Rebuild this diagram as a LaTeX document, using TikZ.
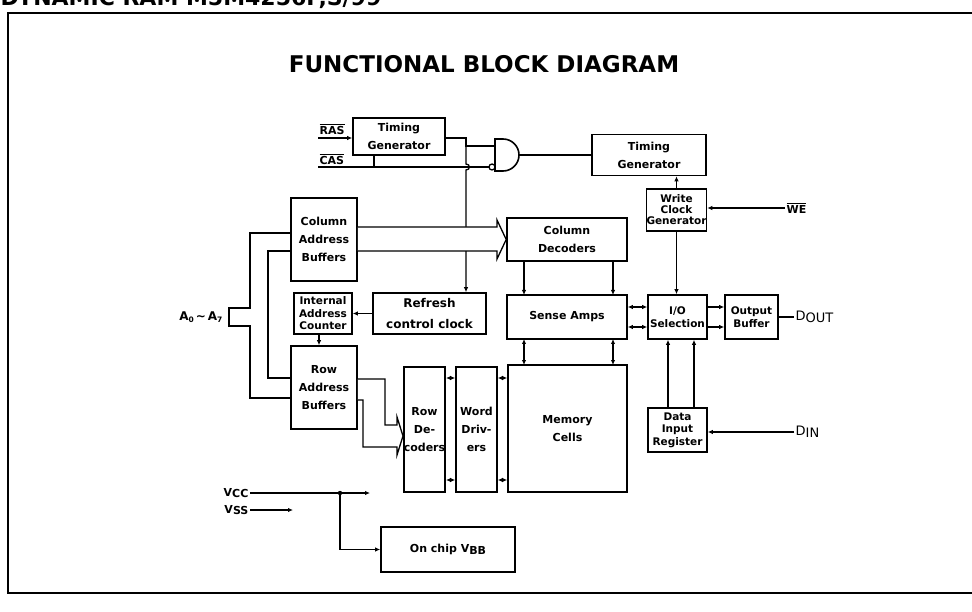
\documentclass[tikz,border=0pt]{standalone}
\usepackage{fontspec}
\setmainfont{DejaVu Sans}
\usetikzlibrary{arrows.meta,calc}
\newcommand\ovl[1]{$\overline{\hbox{#1}}$}
\newcommand\lowsub[1]{\raisebox{-2pt}{\fontsize{7.5}{8}\selectfont #1}}

\begin{document}
\begin{tikzpicture}[x=1pt,y=-1pt,line width=1.3pt,
  >={Latex[length=5pt,width=4.5pt]},
  blk/.style={draw,line width=1.6pt,align=center,inner sep=0pt,font=\bfseries\fontsize{11}{18}\selectfont},
  tight/.style={font=\bfseries\fontsize{10.5}{12.5}\selectfont},
  sz/.style 2 args={minimum width=#1,minimum height=#2},
  lbl/.style={inner sep=1pt,font=\bfseries\fontsize{11}{13}\selectfont},
  pin/.style={inner sep=1pt,font=\fontsize{13}{15}\selectfont}]
\useasboundingbox (0,0) rectangle (972,612);

% frame and headings
\draw[line width=1.6pt] (976,13) -- (8,13) -- (8,593) -- (976,593);
\node[anchor=base west,inner sep=0pt,font=\bfseries\fontsize{22}{22}\selectfont] (hdr) at (0,6) {DYNAMIC RAM M5M4256P,S/99};
\node[inner sep=0pt,font=\bfseries\fontsize{23}{23}\selectfont] (title) at (484,64) {FUNCTIONAL BLOCK DIAGRAM};

% blocks
\node[blk,sz={92}{37}] (tg1) at (399,136.5) {Timing\\Generator};
\node[blk,sz={114}{41}] (tg2) at (649,155) {Timing\\Generator};
\node[blk,tight,sz={59}{42}] (wcg) at (676.5,210) {Write\\[-1.5pt]Clock\\[-1.5pt]Generator};
\node[blk,sz={66}{83}] (cab) at (324,239.5) {Column\\Address\\Buffers};
\node[blk,sz={120}{43}] (cdec) at (567,239.5) {Column\\Decoders};
\node[blk,tight,sz={58}{41}] (iac) at (323,313.5) {Internal\\Address\\Counter};
\node[blk,font=\bfseries\fontsize{12}{21}\selectfont,sz={113}{41}] (rcc) at (429.5,313.5) {Refresh\\control clock};
\node[blk,sz={120}{44}] (samp) at (567,317) {Sense Amps};
\node[blk,tight,sz={59}{44}] (ios) at (677.5,317) {I/O\\Selection};
\node[blk,tight,sz={53}{44}] (obuf) at (751.5,317) {Output\\Buffer};
\node[blk,sz={66}{83}] (rab) at (324,387.5) {Row\\Address\\Buffers};
\node[blk,sz={39}{125}] (rdec) at (424.5,429.5) {Row\\De-\\coders};
\node[blk,sz={41}{125}] (wdrv) at (476.5,429.5) {Word\\Driv-\\ers};
\node[blk,sz={119}{127}] (mem) at (567.5,428.5) {Memory\\Cells};
\node[blk,tight,sz={59}{44}] (dir) at (677.5,430) {Data\\Input\\Register};
\node[blk,sz={134}{45}] (vbb) at (448,549.5) {On chip V\raisebox{-1.5pt}{BB}};

% pins
\node[lbl,anchor=south west] (rasl) at (318,136) {\ovl{RAS}};
\node[lbl,anchor=south west] (casl) at (318,166) {\ovl{CAS}};
\node[lbl,anchor=west] (wel) at (785,208) {\ovl{WE}};
\node[pin,anchor=west] (doutl) at (794,317) {D\raisebox{-2pt}{OUT}};
\node[pin,anchor=west] (dinl) at (794,432) {D\raisebox{-2pt}{IN}};
\node[lbl,anchor=east,font=\bfseries\fontsize{12}{14}\selectfont] (addr) at (224,317) {A\lowsub{0}\,\textasciitilde\,A\lowsub{7}};
\node[lbl,anchor=east] (vccl) at (250,493) {V\raisebox{-1pt}{CC}};
\node[lbl,anchor=east] (vssl) at (250,510) {V\raisebox{-1pt}{SS}};
\coordinate (ras) at (318,138);
\coordinate (cas) at (318,167);
\coordinate (tap) at (466,138);
\coordinate (gout) at (519,155);

% RAS / CAS and the gate
\draw[->] (ras) -- (ras -| tg1.west);
\draw (cas) -- (489,167);
\draw (374,155) -- (374,167);
\draw (tg1.east |- tap) -- (tap) -- (466,146) -- (495,146);
\draw[line width=1.6pt] (495,139) -- (503,139) arc[start angle=-90,end angle=90,radius=16] -- (495,171) -- cycle;
\draw (492,167) circle[radius=3];
\draw (gout) -- (gout -| tg2.west);
\draw[->] (466,146) -- (466,164) .. controls (470.5,164) and (470.5,170) .. (466,170) -- (tap |- rcc.north);
\draw[->] (wcg.north) -- (wcg.north |- tg2.south);
\draw[->] (wel.west) -- (wcg.east |- wel.west);
\draw[->] (wcg.south) -- (wcg.south |- ios.north);

% column address bus
\draw[fill=white] (cab.east |- 0,227) -- (497,227) -- (497,220) -- (cdec.west) -- (497,259) -- (497,251) -- (cab.east |- 0,251);
\foreach \x in {524,613} {
  \draw[->] (\x,261) -- (\x,295);
  \draw[<->] (\x,339) -- (\x,365);
}
\foreach \y in {307,327} {
  \draw[<->] (samp.east |- 0,\y) -- (ios.west |- 0,\y);
  \draw[->] (ios.east |- 0,\y) -- (obuf.west |- 0,\y);
}
\draw (obuf.east) -- (doutl.west);
\foreach \x in {668,694} \draw[->] (dir.north -| \x,0) -- (ios.south -| \x,0);
\draw[->] (dinl.west) -- (dir.east |- dinl.west);

% refresh and address paths
\draw[->] (rcc.west) -- (iac.east);
\draw[->] (iac.south -| 319,0) -- (rab.north -| 319,0);
\draw (cab.west |- 0,233) -- (250,233) -- (250,308) -- (229,308) -- (229,326) -- (250,326) -- (250,398) -- (rab.west |- 0,398);
\draw (cab.west |- 0,251) -- (268,251) -- (268,378) -- (rab.west |- 0,378);

% row address bus
\draw[fill=white] (rab.east |- 0,379) -- (385,379) -- (385,425) -- (397,425) -- (397,417) -- (rdec.west |- 0,436) -- (397,455) -- (397,447) -- (363,447) -- (363,400) -- (rab.east |- 0,400);
\foreach \y in {378,480} {
  \draw[<->] (rdec.east |- 0,\y) -- (wdrv.west |- 0,\y);
  \draw[<->] (wdrv.east |- 0,\y) -- (mem.west |- 0,\y);
}

% supply
\draw[->] (vccl.east) -- (370,493);
\draw[->] (vssl.east) -- (293,510);
\fill (340,493) circle[radius=2.2];
\draw[->] (340,493) -- (340,549.5) -- (vbb.west);
\end{tikzpicture}
\end{document}
